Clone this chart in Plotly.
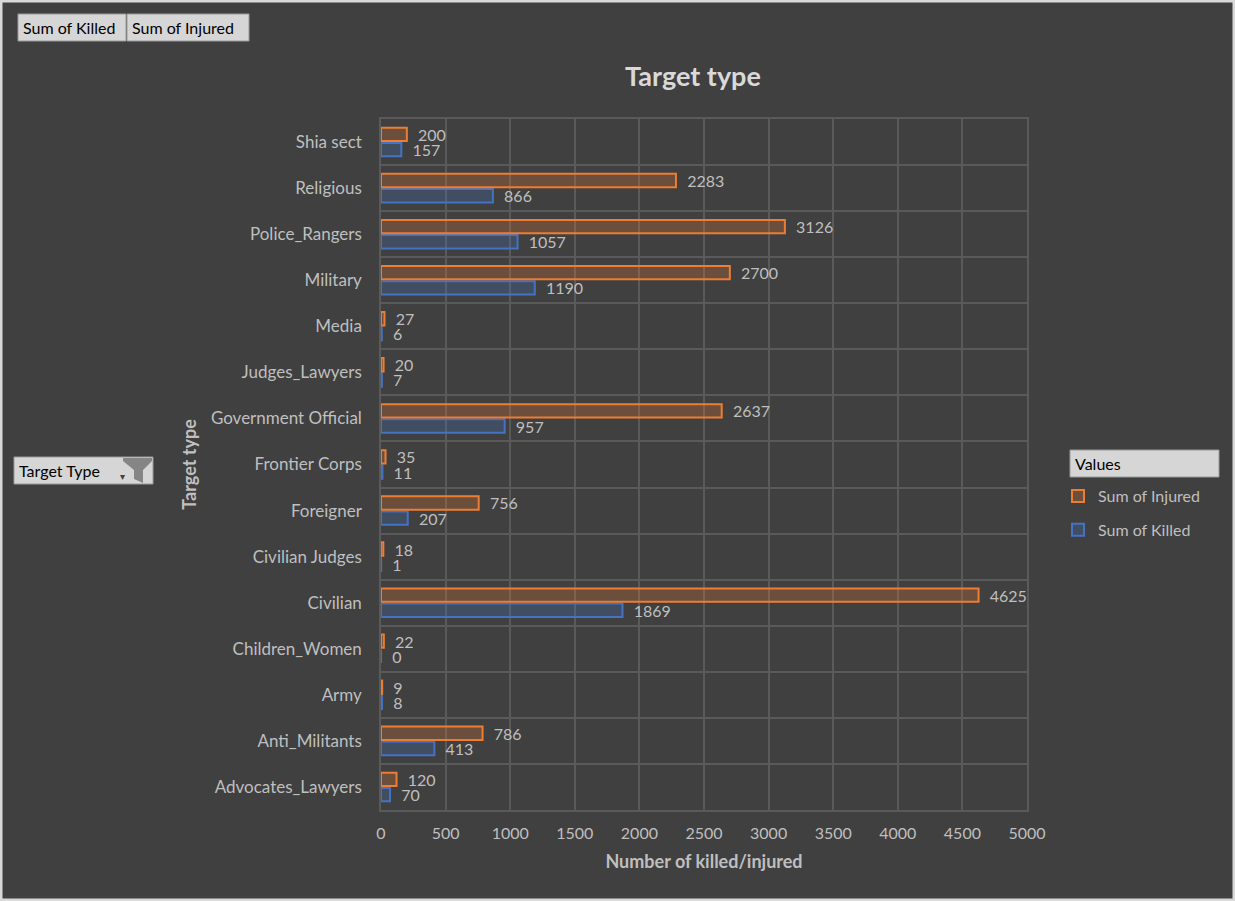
import plotly.graph_objects as go

# categories bottom -> top, as they appear on the chart
target_types = ["Advocates_Lawyers", "Anti_Militants", "Army", "Children_Women",
                "Civilian", "Civilian Judges", "Foreigner", "Frontier Corps",
                "Government Official", "Judges_Lawyers", "Media", "Military",
                "Police_Rangers", "Religious", "Shia sect"]
sum_injured = [120, 786, 9, 22, 4625, 18, 756, 35, 2637, 20, 27, 2700, 3126, 2283, 200]
sum_killed = [70, 413, 8, 0, 1869, 1, 207, 11, 957, 7, 6, 1190, 1057, 866, 157]
x_ticks = [0, 500, 1000, 1500, 2000, 2500, 3000, 3500, 4000, 4500, 5000]

W, H = 1235, 901
ML, MR, MT, MB = 381, 208, 119, 91
PW, PH = W - ML - MR, H - MT - MB

BG = "#404040"
GRID = "#5a5a5a"
TXT = "#bfbfbf"
FONT = "Lato, Calibri, sans-serif"


def px_x(px):
    return (px - ML) / PW


def px_y(py):
    return 1 - (py - MT) / PH


fig = go.Figure()
fig.add_trace(go.Bar(
    y=target_types, x=sum_killed, orientation="h", name="Sum of Killed",
    legendgroup="k", legendrank=2,
    marker=dict(color="rgba(68,114,196,0.25)", line=dict(color="#4472C4", width=2)),
    text=sum_killed, texttemplate="  %{x}", textposition="outside",
    constraintext="none",
    textfont=dict(color=TXT, size=16, family=FONT), cliponaxis=False,
))
fig.add_trace(go.Bar(
    y=target_types, x=sum_injured, orientation="h", name="Sum of Injured",
    legendgroup="i", legendrank=1,
    marker=dict(color="rgba(237,125,49,0.25)", line=dict(color="#ED7D31", width=2)),
    text=sum_injured, texttemplate="  %{x}", textposition="outside",
    constraintext="none",
    textfont=dict(color=TXT, size=16, family=FONT), cliponaxis=False,
))

# pivot-chart style buttons
buttons = [
    ("Sum of Killed", 18, 126, 14, 41),
    ("Sum of Injured", 127, 249, 14, 41),
    ("Target Type", 14, 153, 457, 484),
    ("Values", 1070, 1219, 450, 477),
]
shapes = []
annotations = []
for label, x0, x1, y0, y1 in buttons:
    shapes.append(dict(type="rect", xref="paper", yref="paper",
                       x0=px_x(x0), x1=px_x(x1), y0=px_y(y1), y1=px_y(y0),
                       fillcolor="#d6d6d6", line=dict(color="#9a9a9a", width=1),
                       layer="above"))
    annotations.append(dict(text=label, xref="paper", yref="paper",
                            x=px_x(x0 + 3), y=px_y((y0 + y1) / 2),
                            xanchor="left", yanchor="middle", showarrow=False,
                            font=dict(color="#000000", size=16, family=FONT)))

# small dropdown arrow and funnel icon on the filter button
annotations.append(dict(text="\u25be", xref="paper", yref="paper",
                        x=px_x(122), y=px_y(476), xanchor="center", yanchor="middle",
                        showarrow=False, font=dict(color="#404040", size=10)))
shapes.append(dict(type="path", xref="paper", yref="paper",
                   xsizemode="pixel", ysizemode="pixel",
                   xanchor=px_x(123), yanchor=px_y(458),
                   path="M 0 0 L 29 0 L 29 -3 L 20 -12 L 20 -25 L 11 -21 L 11 -12 L 0 -3 Z",
                   fillcolor="#858585", line=dict(width=0), layer="above"))

# outer frame
shapes.append(dict(type="rect", xref="paper", yref="paper",
                   x0=px_x(1), x1=px_x(W - 1), y0=px_y(H - 1), y1=px_y(1),
                   line=dict(color="#d9d9d9", width=3), layer="above"))

fig.update_layout(
    width=W, height=H,
    margin=dict(l=ML, r=MR, t=MT, b=MB, autoexpand=False),
    paper_bgcolor=BG, plot_bgcolor=BG,
    font=dict(family=FONT, color=TXT, size=16),
    title=dict(text="<b>Target type</b>", x=693 / W, xanchor="center",
               y=1 - 77 / H, yanchor="middle",
               font=dict(size=27, color="#d9d9d9", family=FONT)),
    barmode="group", bargap=0.34, bargroupgap=0.12,
    showlegend=True,
    legend=dict(x=px_x(1058), y=px_y(479), xanchor="left", yanchor="top",
                traceorder="grouped", tracegroupgap=10,
                font=dict(size=16, color=TXT, family=FONT),
                bgcolor="rgba(0,0,0,0)"),
    xaxis=dict(range=[0, 5000], tickvals=x_ticks, showgrid=True, gridcolor=GRID,
               gridwidth=1.5, zeroline=False, showline=True, linecolor=GRID,
               linewidth=1.5, mirror=True, ticks="", ticklabelstandoff=8,
               tickfont=dict(size=16, color=TXT),
               title=dict(text="<b>Number of killed/injured</b>", standoff=14,
                          font=dict(size=18, color=TXT))),
    yaxis=dict(type="category", tickson="boundaries", showgrid=True,
               gridcolor=GRID, gridwidth=1.5, showline=True, linecolor=GRID,
               linewidth=1.5, mirror=True, ticks="", ticklabelstandoff=14,
               tickfont=dict(size=17, color=TXT),
               title=dict(text="<b>Target type</b>", standoff=10,
                          font=dict(size=18, color=TXT))),
    shapes=shapes, annotations=annotations,
)

fig.write_html("out.html", config={"displayModeBar": False},
               post_script="document.body.style.margin='0';")
